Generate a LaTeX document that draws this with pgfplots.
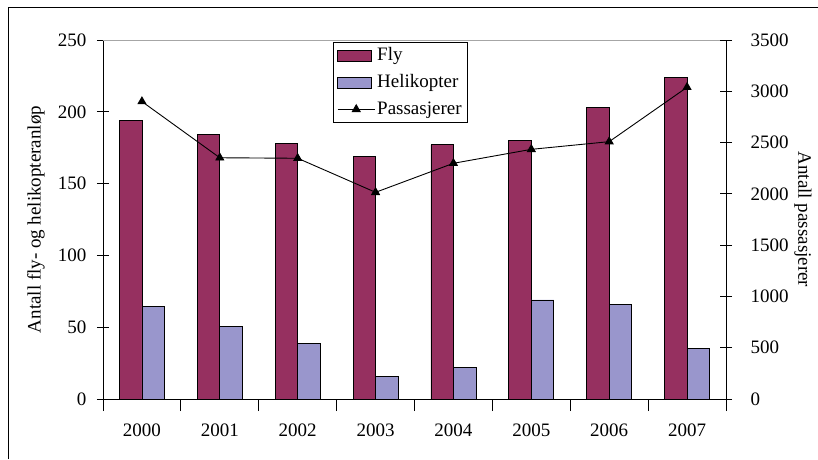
\documentclass[border=0pt]{standalone}
\usepackage{pgfplots}
\pgfplotsset{compat=1.18}
\usepackage{fontspec}
\setmainfont{Liberation Serif}
\definecolor{fly}{HTML}{963060}
\definecolor{heli}{HTML}{9996CC}
\pgfplotsset{
  mybarlegend/.style={legend image code/.code={\draw[##1] (0pt,-5.5pt) rectangle (34pt,5.5pt);}},
  mylinelegend/.style={legend image code/.code={\draw[##1] (0pt,0pt) -- (37pt,0pt); \draw[##1] plot[mark=triangle*] coordinates {(18.5pt,0pt)};}},
}
\begin{document}
\fontsize{19}{22}\selectfont
\begin{tikzpicture}
\useasboundingbox (-103pt,-60pt) rectangle (715pt,399pt);
\draw[line width=0.9pt] (-95pt,-60pt) -- (-95pt,392pt) -- (715pt,392pt);
\begin{axis}[
  scale only axis, width=623pt, height=359pt,
  xmin=-0.5, xmax=7.5, ymin=0, ymax=250,
  axis x line*=bottom, axis y line*=left,
  axis line style={line width=0.8pt,-},
  xtick={0,...,7},
  xticklabels={2000,2001,2002,2003,2004,2005,2006,2007},
  minor xtick={-0.5,0.5,...,7.5},
  major x tick style={draw=none},
  ytick={0,50,...,250},
  tick align=center,
  major tick length=12pt, minor tick length=12pt,
  tick style={line width=0.8pt,black},
  /pgf/number format/assume math mode=true,
  ticklabel style={font=\fontsize{19}{22}\selectfont},
  xticklabel style={yshift=-6pt},
  yticklabel style={xshift=-4pt},
  ylabel={Antall fly- og helikopteranløp},
  ylabel style={at={(axis description cs:-0.1075,0.5)}, anchor=center, font=\fontsize{19}{22}\selectfont},
  ybar=0pt, bar width=22.5pt,
  clip=false,
]
\addplot[draw=black, line width=0.7pt, fill=fly] coordinates {(0,194) (1,184) (2,178) (3,169) (4,177) (5,180) (6,203) (7,224)};
\addplot[draw=black, line width=0.7pt, fill=heli] coordinates {(0,64.5) (1,50.5) (2,38.5) (3,15.5) (4,22) (5,69) (6,66) (7,35)};
\draw[gray!70, line width=1pt] (rel axis cs:0,1) -- (rel axis cs:1,1);
\end{axis}
\begin{axis}[
  scale only axis, width=623pt, height=359pt,
  xmin=-0.5, xmax=7.5, ymin=0, ymax=3500,
  axis x line=none, axis y line*=right,
  axis line style={line width=0.8pt,-},
  ytick={0,500,...,3500},
  tick align=center,
  major tick length=12pt,
  tick style={line width=0.8pt,black},
  /pgf/number format/assume math mode=true,
  /pgf/number format/1000 sep={},
  ticklabel style={font=\fontsize{19}{22}\selectfont},
  yticklabel style={xshift=12pt},
  ylabel={Antall passasjerer},
  ylabel style={at={(axis description cs:1.1236,0.5)}, anchor=center, rotate=180, font=\fontsize{19}{22}\selectfont},
  legend style={at={(axis description cs:0.369,0.994)}, anchor=north west, draw=black, line width=0.8pt,
    font=\fontsize{19}{22}\selectfont, row sep=7pt, inner xsep=4pt, inner ysep=3pt},
  legend cell align=left,
  clip=false,
]
\addlegendimage{draw=black, line width=0.7pt, fill=fly, mybarlegend}
\addlegendentry{Fly}
\addlegendimage{draw=black, line width=0.7pt, fill=heli, mybarlegend}
\addlegendentry{Helikopter}
\addplot[black, line width=0.9pt, mark=triangle*, mark size=4.5pt, mylinelegend]
  coordinates {(0,2900) (1,2352) (2,2347) (3,2015) (4,2298) (5,2434) (6,2509) (7,3039)};
\addlegendentry{Passasjerer}
\end{axis}
\end{tikzpicture}
\end{document}
